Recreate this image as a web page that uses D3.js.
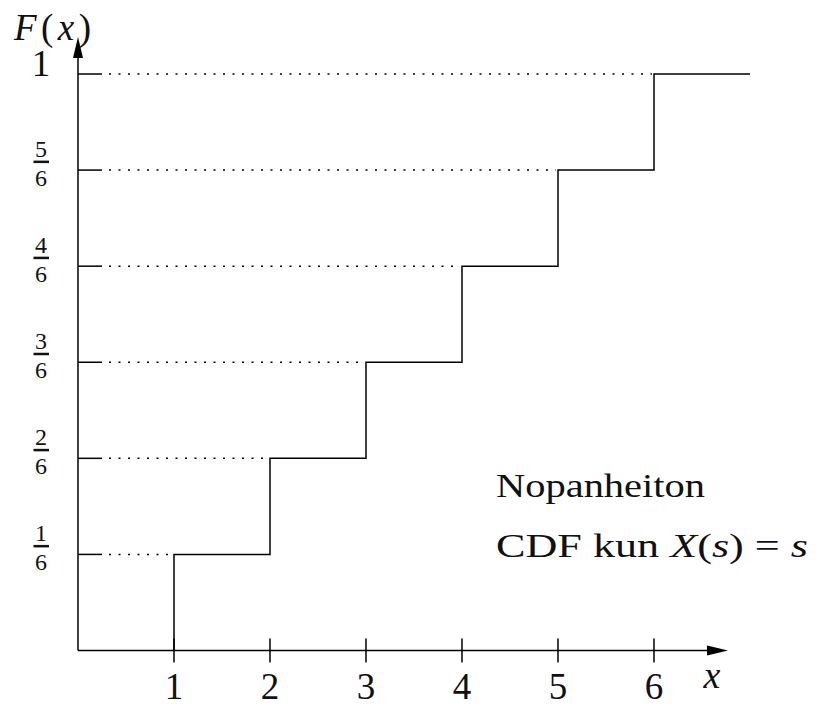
<!DOCTYPE html>
<html>
<head>
<meta charset="utf-8">
<script src="https://cdn.jsdelivr.net/npm/d3@7"></script>
<style>
  body { margin: 0; background: #fff; }
  text { font-family: "Liberation Serif", "Times New Roman", serif; fill: #111; }
</style>
</head>
<body>
<script>
var width = 819;
var height = 707;

// data
var xValues = [1, 2, 3, 4, 5, 6];
var cdfValues = [1/6, 2/6, 3/6, 4/6, 5/6, 1];
var yNumerators = ["1", "2", "3", "4", "5"];
var yDenominator = "6";
var xTickLabels = ["1", "2", "3", "4", "5", "6"];
var noteLines = ["Nopanheiton", "CDF kun X(s) = s"];

var svg = d3.select("body")
            .append("svg")
            .attr("width", width)
            .attr("height", height);

// scales
var x = d3.scaleLinear().domain([0, 7]).range([78, 750]);
var y = d3.scaleLinear().domain([0, 1]).range([650.5, 74]);

// dotted guide lines from the axis to each step
cdfValues.forEach(function(v, i) {
  svg.append("line")
     .attr("x1", x(0)).attr("x2", x(0) + 24)
     .attr("y1", y(v)).attr("y2", y(v))
     .attr("stroke", "#000").attr("stroke-width", 1.5);
  svg.append("line")
     .attr("x1", x(0) + 31).attr("x2", x(xValues[i]) - 2)
     .attr("y1", y(v)).attr("y2", y(v))
     .attr("stroke", "#000").attr("stroke-width", 1.5)
     .attr("stroke-dasharray", "2,7.5");
});

// step function
var pts = [[xValues[0], 0]];
xValues.forEach(function(xv, i) {
  pts.push([xv, cdfValues[i]]);
  var next = i < xValues.length - 1 ? xValues[i + 1] : 7;
  pts.push([next, cdfValues[i]]);
});
var line = d3.line().x(function(d) { return x(d[0]); }).y(function(d) { return y(d[1]); });
svg.append("path")
   .attr("d", line(pts))
   .attr("fill", "none")
   .attr("stroke", "#000")
   .attr("stroke-width", 1.5);

// axes
svg.append("line")
   .attr("x1", x(0)).attr("x2", 707)
   .attr("y1", y(0)).attr("y2", y(0))
   .attr("stroke", "#000").attr("stroke-width", 1.5);
svg.append("path")
   .attr("d", "M728," + y(0) + "L707," + (y(0) - 5) + "L707," + (y(0) + 5) + "Z")
   .attr("fill", "#000");
svg.append("line")
   .attr("x1", x(0)).attr("x2", x(0))
   .attr("y1", y(0)).attr("y2", 57)
   .attr("stroke", "#000").attr("stroke-width", 1.5);
svg.append("path")
   .attr("d", "M" + x(0) + ",37L" + (x(0) - 5) + ",58L" + (x(0) + 5) + ",58Z")
   .attr("fill", "#000");

// x ticks and labels
xValues.forEach(function(xv, i) {
  svg.append("line")
     .attr("x1", x(xv)).attr("x2", x(xv))
     .attr("y1", y(0) - 12).attr("y2", y(0) + 12)
     .attr("stroke", "#000").attr("stroke-width", 1.5);
  svg.append("text")
     .attr("x", x(xv)).attr("y", 699)
     .attr("text-anchor", "middle")
     .style("font-size", "37px")
     .text(xTickLabels[i]);
});

// y labels as fractions
yNumerators.forEach(function(n, i) {
  var yy = y(cdfValues[i]);
  svg.append("text")
     .attr("x", 41).attr("y", yy - 13.5)
     .attr("text-anchor", "middle")
     .style("font-size", "24px")
     .text(n);
  svg.append("rect")
     .attr("x", 33.5).attr("y", yy - 9.5)
     .attr("width", 15.5).attr("height", 2.5)
     .attr("fill", "#111");
  svg.append("text")
     .attr("x", 41).attr("y", yy + 15.5)
     .attr("text-anchor", "middle")
     .style("font-size", "24px")
     .text(yDenominator);
});
svg.append("text")
   .attr("x", 41).attr("y", y(1) + 2)
   .attr("text-anchor", "middle")
   .style("font-size", "37px")
   .text("1");

// axis titles
var fx = svg.append("text")
   .attr("x", 14).attr("y", 40)
   .style("font-size", "37px")
   .attr("textLength", 77)
   .attr("lengthAdjust", "spacing");
fx.append("tspan").style("font-style", "italic").text("F");
fx.append("tspan").text("(");
fx.append("tspan").style("font-style", "italic").text("x");
fx.append("tspan").text(")");

svg.append("text")
   .attr("x", 712).attr("y", 688)
   .attr("text-anchor", "middle")
   .style("font-size", "38px")
   .style("font-style", "italic")
   .text("x");

// note
svg.append("text")
   .attr("x", 496).attr("y", 497)
   .style("font-size", "33px")
   .attr("textLength", 209)
   .attr("lengthAdjust", "spacingAndGlyphs")
   .text(noteLines[0]);

var note2 = svg.append("text")
   .attr("x", 496).attr("y", 557)
   .style("font-size", "33px")
   .attr("textLength", 312)
   .attr("lengthAdjust", "spacingAndGlyphs");
note2.append("tspan").text("CDF kun ");
note2.append("tspan").style("font-style", "italic").text("X");
note2.append("tspan").text("(");
note2.append("tspan").style("font-style", "italic").text("s");
note2.append("tspan").text(") = ");
note2.append("tspan").style("font-style", "italic").text("s");
</script>
</body>
</html>
